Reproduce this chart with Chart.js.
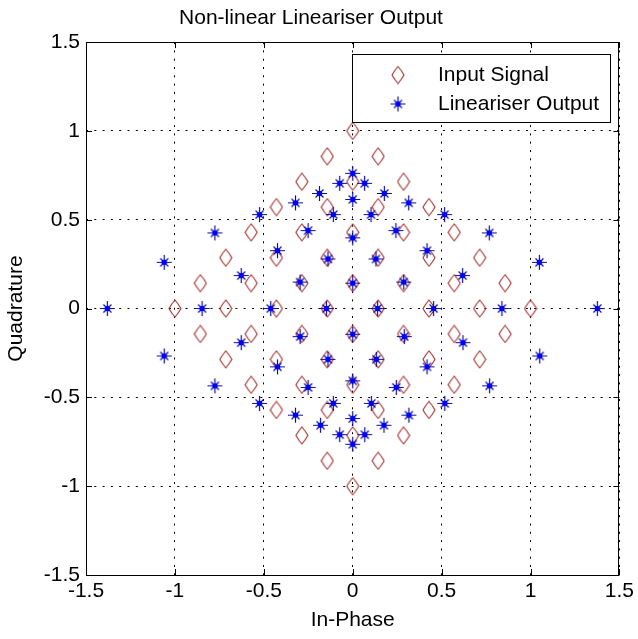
<!DOCTYPE html>
<html>
<head>
<meta charset="utf-8">
<script src="https://cdn.jsdelivr.net/npm/chart.js@4/dist/chart.umd.min.js"></script>
<style>
  body { margin: 0; background: #fff; }
  canvas { display: block; }
</style>
</head>
<body>
<canvas id="constellation" width="638" height="639"></canvas>
<script>
const seriesNames = ['Input Signal', 'Lineariser Output'];
const axisTicks = [-1.5, -1, -0.5, 0, 0.5, 1, 1.5];

// input constellation (I, Q)
const inputI = [
  0, 0, 0, 0, 0, 0, 0, 0,
  -1, -0.714, -0.429, -0.143, 0.143, 0.429, 0.714, 1,
  0.143, 0.286, 0.143, 0.286, 0.429, 0.571, 0.143, 0.286, 0.429, 0.571, 0.714, 0.857,
  -0.143, -0.286, -0.143, -0.286, -0.429, -0.571, -0.143, -0.286, -0.429, -0.571, -0.714, -0.857,
  -0.143, -0.286, -0.143, -0.286, -0.429, -0.571, -0.143, -0.286, -0.429, -0.571, -0.714, -0.857,
  0.143, 0.286, 0.143, 0.286, 0.429, 0.571, 0.143, 0.286, 0.429, 0.571, 0.714, 0.857
];
const inputQ = [
  1, 0.714, 0.429, 0.143, -0.143, -0.429, -0.714, -1,
  0, 0, 0, 0, 0, 0, 0, 0,
  0.286, 0.143, 0.571, 0.429, 0.286, 0.143, 0.857, 0.714, 0.571, 0.429, 0.286, 0.143,
  0.286, 0.143, 0.571, 0.429, 0.286, 0.143, 0.857, 0.714, 0.571, 0.429, 0.286, 0.143,
  -0.286, -0.143, -0.571, -0.429, -0.286, -0.143, -0.857, -0.714, -0.571, -0.429, -0.286, -0.143,
  -0.286, -0.143, -0.571, -0.429, -0.286, -0.143, -0.857, -0.714, -0.571, -0.429, -0.286, -0.143
];

// lineariser output (I, Q)
const outputI = [
  0, 0, 0, 0, 0, 0, 0, 0,
  -1.38, -0.847, -0.461, -0.148, 0.140, 0.455, 0.839, 1.376,
  0.131, 0.287, 0.103, 0.243, 0.418, 0.618, 0.067, 0.178, 0.315, 0.517, 0.768, 1.05,
  -0.139, -0.296, -0.109, -0.251, -0.423, -0.627, -0.073, -0.187, -0.322, -0.524, -0.775, -1.06,
  -0.139, -0.296, -0.109, -0.251, -0.423, -0.627, -0.073, -0.181, -0.322, -0.524, -0.775, -1.06,
  0.133, 0.29, 0.105, 0.245, 0.418, 0.62, 0.068, 0.176, 0.316, 0.518, 0.77, 1.052
];
const outputQ = [
  0.761, 0.614, 0.398, 0.143, -0.145, -0.407, -0.619, -0.764,
  0, 0, 0, 0, 0, 0, 0, 0,
  0.279, 0.149, 0.529, 0.439, 0.326, 0.186, 0.705, 0.648, 0.595, 0.529, 0.426, 0.26,
  0.279, 0.149, 0.529, 0.439, 0.326, 0.186, 0.705, 0.648, 0.595, 0.529, 0.426, 0.26,
  -0.286, -0.158, -0.534, -0.444, -0.328, -0.192, -0.71, -0.657, -0.6, -0.534, -0.435, -0.267,
  -0.286, -0.158, -0.534, -0.444, -0.328, -0.192, -0.71, -0.657, -0.6, -0.534, -0.435, -0.267
];

const FONT = "'Liberation Sans', Arial, sans-serif";
const FSIZE = 21;

// marker images: matlab-ish diamond and asterisk
function makeDiamond() {
  const c = document.createElement('canvas');
  c.width = 14; c.height = 19;
  const g = c.getContext('2d');
  g.strokeStyle = 'rgb(165,45,45)';
  g.lineWidth = 1.1;
  g.beginPath();
  g.moveTo(7, 1);
  g.quadraticCurveTo(10.5, 5, 13, 9.5);
  g.quadraticCurveTo(10.5, 14, 7, 18);
  g.quadraticCurveTo(3.5, 14, 1, 9.5);
  g.quadraticCurveTo(3.5, 5, 7, 1);
  g.closePath();
  g.stroke();
  return c;
}

function makeStar() {
  const c = document.createElement('canvas');
  c.width = 17; c.height = 17;
  const g = c.getContext('2d');
  const m = 8.5;
  g.strokeStyle = 'rgb(15,15,150)';
  g.lineWidth = 1.2;
  g.beginPath();
  g.moveTo(m - 7.5, m); g.lineTo(m + 7.5, m);
  g.moveTo(m, m - 7.5); g.lineTo(m, m + 7.5);
  g.moveTo(m - 4, m - 4); g.lineTo(m + 4, m + 4);
  g.moveTo(m - 4, m + 4); g.lineTo(m + 4, m - 4);
  g.stroke();
  g.fillStyle = 'rgb(0,0,255)';
  g.beginPath();
  g.arc(m, m, 2.8, 0, Math.PI * 2);
  g.fill();
  return c;
}

const diamond = makeDiamond();
const star = makeStar();

const inputPoints = inputI.map((v, i) => ({ x: v, y: inputQ[i] }));
const outputPoints = outputI.map((v, i) => ({ x: v, y: outputQ[i] }));

// axes box with inward ticks on all four sides, plus boxed legend
const matlabFrame = {
  id: 'matlabFrame',
  afterDatasetsDraw(chart) {
    const { ctx, chartArea: a, scales } = chart;
    ctx.save();
    ctx.strokeStyle = '#000';
    ctx.lineWidth = 1;
    ctx.strokeRect(Math.round(a.left) + 0.5, Math.round(a.top) + 0.5,
      Math.round(a.right - a.left) - 1, Math.round(a.bottom - a.top));
    ctx.beginPath();
    axisTicks.forEach(t => {
      const px = Math.round(scales.x.getPixelForValue(t)) + 0.5;
      const py = Math.round(scales.y.getPixelForValue(t)) + 0.5;
      ctx.moveTo(px, a.bottom); ctx.lineTo(px, a.bottom - 6);
      ctx.moveTo(px, a.top); ctx.lineTo(px, a.top + 6);
      ctx.moveTo(a.left, py); ctx.lineTo(a.left + 6, py);
      ctx.moveTo(a.right, py); ctx.lineTo(a.right - 6, py);
    });
    ctx.stroke();

    // legend
    const lx = 352.5, ly = 54.5, lw = 258, lh = 68;
    ctx.fillStyle = '#fff';
    ctx.fillRect(lx, ly, lw, lh);
    ctx.strokeRect(lx, ly, lw, lh);
    const imgs = [diamond, star];
    const rows = [75, 104];
    ctx.font = FSIZE + 'px ' + FONT;
    ctx.fillStyle = '#000';
    ctx.textBaseline = 'middle';
    seriesNames.forEach((name, i) => {
      const img = imgs[i];
      ctx.drawImage(img, 398 - img.width / 2, rows[i] - img.height / 2);
      ctx.fillText(name, 438, rows[i]);
    });
    ctx.restore();
  }
};

const tickFmt = v => String(v);

const data = {
  datasets: [{
    label: seriesNames[0],
    data: inputPoints,
    pointStyle: diamond,
    order: 1
  }, {
    label: seriesNames[1],
    data: outputPoints,
    pointStyle: star,
    order: 0
  }]
};

const config = {
  type: 'scatter',
  data: data,
  options: {
    responsive: false,
    animation: false,
    layout: { padding: { left: 0, right: 16, top: 0, bottom: 0 } },
    plugins: {
      legend: { display: false },
      tooltip: { enabled: false },
      title: {
        display: true,
        text: 'Non-linear Lineariser Output',
        color: '#000',
        font: { family: FONT, size: FSIZE, weight: 'normal', lineHeight: 1.1 },
        padding: { top: 7, bottom: 12 }
      }
    },
    scales: {
      x: {
        type: 'linear',
        min: -1.5,
        max: 1.5,
        afterFit: s => { s.height = 64; },
        afterBuildTicks: s => { s.ticks = axisTicks.map(v => ({ value: v })); },
        ticks: { color: '#000', font: { family: FONT, size: FSIZE }, padding: 4, callback: tickFmt },
        grid: { color: '#000', lineWidth: 1, drawTicks: false },
        border: { display: false, dash: [2, 6.3] },
        title: {
          display: true,
          text: 'In-Phase',
          color: '#000',
          font: { family: FONT, size: FSIZE },
          padding: { top: 0, bottom: 6 }
        }
      },
      y: {
        type: 'linear',
        min: -1.5,
        max: 1.5,
        afterFit: s => { s.width = 86; },
        afterBuildTicks: s => { s.ticks = axisTicks.map(v => ({ value: v })); },
        ticks: { color: '#000', font: { family: FONT, size: FSIZE }, padding: 6, callback: tickFmt },
        grid: { color: '#000', lineWidth: 1, drawTicks: false },
        border: { display: false, dash: [2, 6.3] },
        title: {
          display: true,
          text: 'Quadrature',
          color: '#000',
          font: { family: FONT, size: FSIZE },
          padding: { top: 4, bottom: 0 }
        }
      }
    }
  },
  plugins: [matlabFrame]
};

const constellationChart = new Chart(
  document.getElementById('constellation'),
  config
);
</script>
</body>
</html>
